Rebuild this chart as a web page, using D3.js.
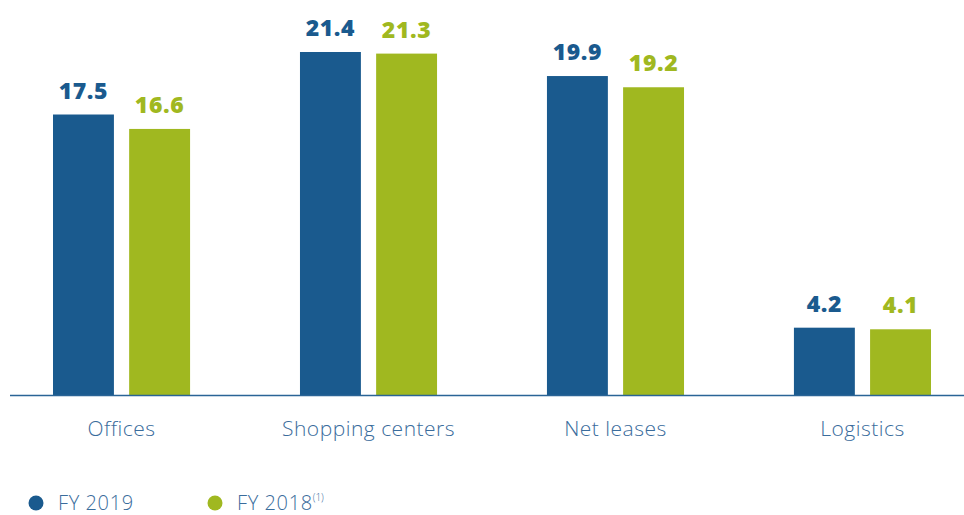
<!DOCTYPE html>
<html>
<head>
<meta charset="utf-8">
<script src="https://cdn.jsdelivr.net/npm/d3@7"></script>
<style>
  body { margin: 0; background: #fff; }
  svg { display: block; }
</style>
</head>
<body>
<svg id="canvas" width="964" height="515"></svg>
<script>
// ---------------- data ----------------
let categories = ['Offices', 'Shopping centers', 'Net leases', 'Logistics'];
let seriesNames = ['FY 2019', 'FY 2018'];
let fy2019 = [17.5, 21.4, 19.9, 4.2];
let fy2018 = [16.6, 21.3, 19.2, 4.1];
let colors = ['#1a5a8e', '#a0b820'];

let rows = categories.map((c, i) => ({ cat: c, vals: [fy2019[i], fy2018[i]] }));

let canvas = d3.select('#canvas');
let baseY = 395;

// scales
let x0 = d3.scaleBand().domain(categories).range([53, 931]).paddingInner(0.445).paddingOuter(0);
let x1 = d3.scaleBand().domain(seriesNames).range([0, x0.bandwidth()]).paddingInner(0.2).paddingOuter(0);
let y = d3.scaleLinear().domain([0, 21.4]).range([baseY, 52]);

// bars
let groups = canvas.selectAll('g.group')
  .data(rows)
  .enter()
  .append('g')
  .attr('class', 'group')
  .attr('transform', d => 'translate(' + x0(d.cat) + ',0)');

groups.selectAll('rect')
  .data(d => d.vals.map((v, i) => ({ name: seriesNames[i], v: v, i: i })))
  .enter()
  .append('rect')
  .attr('x', d => x1(d.name))
  .attr('y', d => y(d.v))
  .attr('width', x1.bandwidth())
  .attr('height', d => baseY - y(d.v))
  .attr('fill', d => colors[d.i]);

// value labels
groups.selectAll('text.val')
  .data(d => d.vals.map((v, i) => ({ name: seriesNames[i], v: v, i: i })))
  .enter()
  .append('text')
  .attr('class', 'val')
  .attr('x', d => x1(d.name) + x1.bandwidth() / 2)
  .attr('y', d => y(d.v) - 16)
  .attr('text-anchor', 'middle')
  .attr('font-family', '"Open Sans", sans-serif')
  .attr('font-weight', 800)
  .attr('font-size', 23)
  .attr('letter-spacing', 0.6)
  .attr('fill', d => colors[d.i])
  .text(d => d.v.toFixed(1));

// baseline
canvas.append('line')
  .attr('x1', 10).attr('x2', 964)
  .attr('y1', baseY + 0.5).attr('y2', baseY + 0.5)
  .attr('stroke', '#2a6496')
  .attr('stroke-width', 1.5);

// category axis
let xAxis = d3.axisBottom(x0).tickSize(0).tickPadding(0);
let axisG = canvas.append('g')
  .attr('transform', 'translate(0,' + (baseY + 26) + ')')
  .call(xAxis);
axisG.select('.domain').remove();
axisG.selectAll('text')
  .attr('font-family', '"Open Sans", sans-serif')
  .attr('font-weight', 300)
  .attr('font-size', 21)
  .attr('letter-spacing', 0.5)
  .attr('fill', '#3a6c9c');

// legend
let legendX = [36, 215];
let legend = canvas.selectAll('g.legend')
  .data(seriesNames)
  .enter()
  .append('g')
  .attr('class', 'legend')
  .attr('transform', (d, i) => 'translate(' + legendX[i] + ',503)');

legend.append('circle')
  .attr('r', 7.5)
  .attr('fill', (d, i) => colors[i]);

let lt = legend.append('text')
  .attr('x', 22)
  .attr('y', 7)
  .attr('font-family', '"Open Sans", sans-serif')
  .attr('font-weight', 300)
  .attr('font-size', 20)
  .attr('letter-spacing', 0.6)
  .attr('fill', '#3a6c9c')
  .text(d => d);

lt.filter((d, i) => i === 1)
  .append('tspan')
  .attr('font-size', 10)
  .attr('letter-spacing', 0)
  .attr('dy', -9)
  .text('(1)');
</script>
</body>
</html>
